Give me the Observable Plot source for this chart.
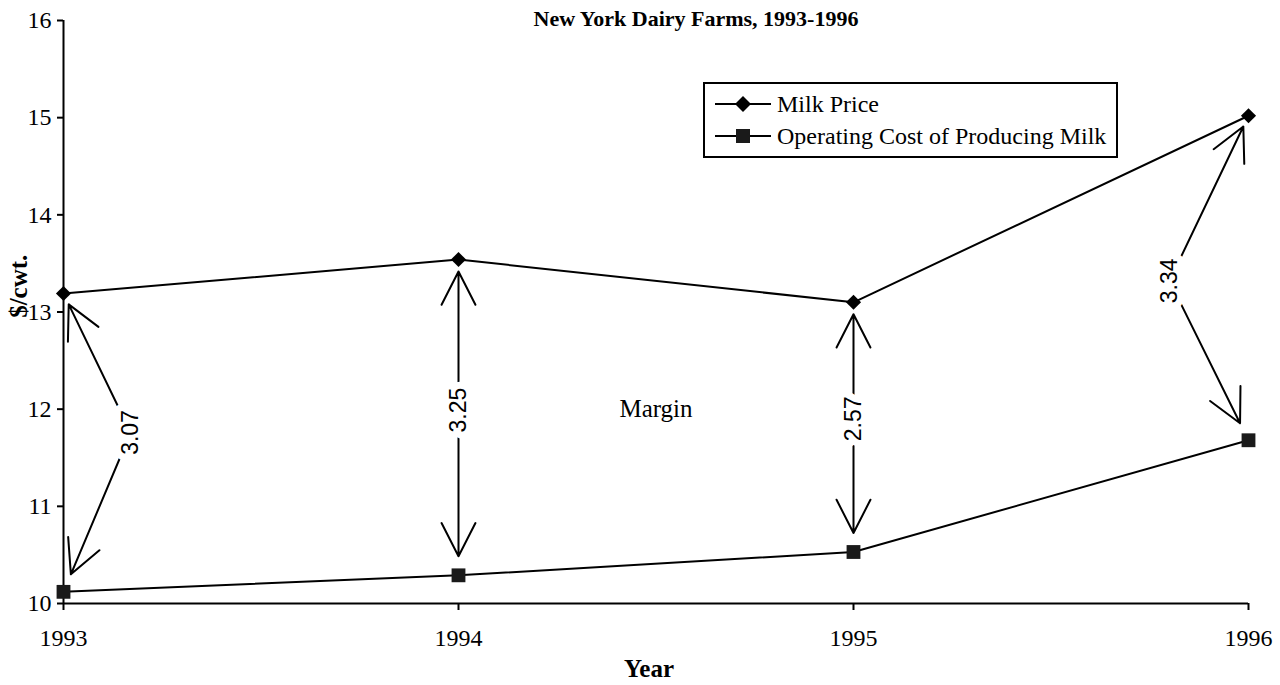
<!DOCTYPE html>
<html>
<head>
<meta charset="utf-8">
<script src="https://cdn.jsdelivr.net/npm/d3@7"></script>
<script src="https://cdn.jsdelivr.net/npm/@observablehq/plot@0.6"></script>
<style>
  body { margin: 0; background: #fff; }
  #wrap { position: relative; width: 1280px; height: 685px; }
  #wrap g[aria-label$="tick label"] text, #wrap g[aria-label$="tick label"] {
    font-family: "Liberation Serif", "Times New Roman", serif !important;
    font-size: 24px;
  }
  #legend {
    position: absolute; left: 703px; top: 82px; width: 411px; height: 72px;
    border: 2px solid #000; background: #fff;
    font-family: "Liberation Serif", "Times New Roman", serif; font-size: 24px;
  }
  .row { position: absolute; left: 10px; height: 30px; display: flex; align-items: center; white-space: nowrap; }
  .row svg { margin-right: 6px; }
</style>
</head>
<body>
<div id="wrap"></div>
<script>
const years = [1993, 1994, 1995, 1996];
const milkPrice = [13.19, 13.54, 13.10, 15.02];
const operatingCost = [10.12, 10.29, 10.53, 11.68];
const yTicks = [10, 11, 12, 13, 14, 15, 16];
const marginText = ["3.07", "3.25", "2.57", "3.34"];
const marginLabelX = [1993.17, 1994, 1995, 1995.80];
const marginLabelY = [11.76, 11.99, 11.90, 13.32];
const seriesNames = ["Milk Price", "Operating Cost of Producing Milk"];
const titleText = "New York Dairy Farms, 1993-1996";

const rows = years.map((year, i) => ({
  year, price: milkPrice[i], cost: operatingCost[i],
  label: marginText[i], lx: marginLabelX[i], ly: marginLabelY[i]
}));

const serif = "'Liberation Serif', 'Times New Roman', serif";
const sans = "'Liberation Sans', Arial, sans-serif";

const chart = Plot.plot({
  width: 1280,
  height: 685,
  marginLeft: 63,
  marginRight: 32,
  marginTop: 20,
  marginBottom: 82,
  style: {fontFamily: serif, fontSize: "24px", color: "#000", background: "#fff"},
  x: {domain: [1993, 1996]},
  y: {domain: [10, 16]},
  marks: [
    Plot.axisX({ticks: years, tickFormat: d3.format("d"), tickSize: 7, tickPadding: 18, strokeWidth: 2, label: null, fontSize: 24, fontFamily: serif, fontVariant: "normal"}),
    Plot.axisY({ticks: yTicks, tickFormat: d3.format("d"), tickSize: 6, tickPadding: 6, strokeWidth: 2, label: null, fontSize: 24, fontFamily: serif, fontVariant: "normal"}),
    Plot.ruleY([10], {stroke: "#000", strokeWidth: 2}),
    Plot.ruleX([1993], {stroke: "#000", strokeWidth: 2}),
    Plot.line(rows, {x: "year", y: "price", stroke: "#000", strokeWidth: 2}),
    Plot.line(rows, {x: "year", y: "cost", stroke: "#000", strokeWidth: 2}),
    Plot.arrow(rows, {x1: "lx", y1: "ly", x2: "year", y2: "price", insetEnd: 12, headLength: 28, headAngle: 54, stroke: "#000", strokeWidth: 2}),
    Plot.arrow(rows, {x1: "lx", y1: "ly", x2: "year", y2: "cost", insetEnd: 19, headLength: 28, headAngle: 54, stroke: "#000", strokeWidth: 2}),
    Plot.text(rows, {x: "lx", y: "ly", text: "label", rotate: -90, fontFamily: sans, fontSize: 23, fill: "#000", stroke: "#fff", strokeWidth: 14}),
    Plot.dot(rows, {x: "year", y: "price", symbol: "diamond2", r: 6.8, fill: "#000", stroke: "none"}),
    Plot.dot(rows, {x: "year", y: "cost", symbol: "square", r: 7.8, fill: "#1a1a1a", stroke: "none"}),
    Plot.text(["Margin"], {x: 1994.5, y: 12.0, fontSize: 25, fontFamily: serif, fill: "#000"}),
    Plot.text(["$/cwt."], {frameAnchor: "left", dx: -45, y: 12.94, rotate: -90, fontWeight: "bold", fontSize: 25, fontFamily: serif, fill: "#000"}),
    Plot.text(["Year"], {frameAnchor: "bottom", lineAnchor: "middle", dx: -7, dy: 65, fontWeight: "bold", fontSize: 25, fontFamily: serif, fill: "#000"}),
    Plot.text([titleText], {frameAnchor: "top", dx: 40, dy: -10, fontWeight: "bold", fontSize: 22, fontFamily: serif, fill: "#000"})
  ]
});

const wrap = document.getElementById("wrap");
wrap.appendChild(chart);

const legend = document.createElement("div");
legend.id = "legend";
const symbols = ["diamond", "square"];
seriesNames.forEach((name, i) => {
  const row = document.createElement("div");
  row.className = "row";
  row.style.top = (i === 0 ? 5 : 37) + "px";
  const sw = symbols[i] === "diamond"
    ? '<svg width="56" height="20"><line x1="0" y1="10" x2="56" y2="10" stroke="#000" stroke-width="2"/><path d="M28,2 L36,10 L28,18 L20,10 Z" fill="#000"/></svg>'
    : '<svg width="56" height="20"><line x1="0" y1="10" x2="56" y2="10" stroke="#000" stroke-width="2"/><rect x="21" y="3" width="14" height="14" fill="#1a1a1a"/></svg>';
  row.innerHTML = sw + "<span>" + name + "</span>";
  legend.appendChild(row);
});
wrap.appendChild(legend);
</script>
</body>
</html>
